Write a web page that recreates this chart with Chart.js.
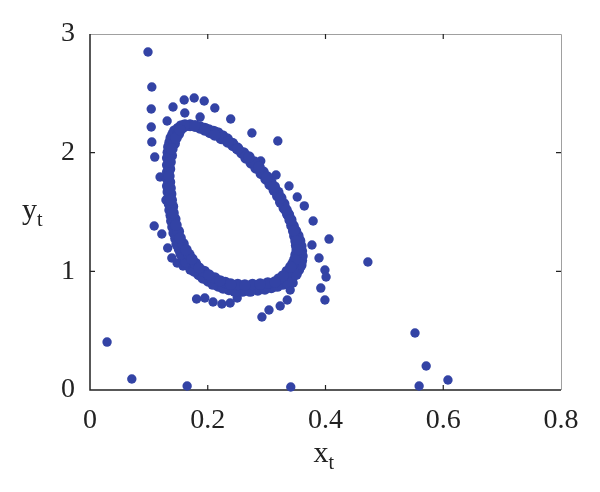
<!DOCTYPE html>
<html>
<head>
<meta charset="utf-8">
<script src="https://cdn.jsdelivr.net/npm/chart.js@4"></script>
<style>
  html, body { margin: 0; padding: 0; background: #fff; }
  #wrap { width: 600px; height: 492px; }
</style>
</head>
<body>
<div id="wrap"><canvas id="myChart" width="600" height="492"></canvas></div>
<script>
// tick values
var xTicks = [0, 0.2, 0.4, 0.6, 0.8];
var yTicks = [0, 1, 2, 3];

// dense closed orbit, inner side of the band
var loopInner = [
  [0.161, 2.233], [0.178, 2.225], [0.195, 2.191], [0.212, 2.149], [0.234, 2.090],
  [0.251, 2.031], [0.270, 1.963], [0.287, 1.879], [0.301, 1.795], [0.313, 1.711],
  [0.324, 1.618], [0.333, 1.517], [0.340, 1.433], [0.346, 1.340], [0.350, 1.256],
  [0.352, 1.180], [0.348, 1.096], [0.341, 1.036], [0.328, 0.961], [0.314, 0.910],
  [0.289, 0.893], [0.263, 0.885], [0.239, 0.893], [0.221, 0.919], [0.202, 0.969],
  [0.185, 1.028], [0.173, 1.104], [0.163, 1.180], [0.153, 1.281], [0.146, 1.390],
  [0.141, 1.492], [0.138, 1.601], [0.136, 1.702], [0.134, 1.803], [0.136, 1.921],
  [0.139, 2.031], [0.146, 2.124], [0.153, 2.191]
];

// more iterates on the inner side, between the ones above
var loopInnerB = [
  [0.170, 2.229], [0.187, 2.208], [0.204, 2.170], [0.223, 2.120], [0.243, 2.061],
  [0.261, 1.997], [0.279, 1.921], [0.294, 1.837], [0.307, 1.753], [0.319, 1.665],
  [0.329, 1.568], [0.337, 1.475], [0.343, 1.387], [0.348, 1.298], [0.351, 1.218],
  [0.350, 1.138], [0.345, 1.066], [0.335, 0.999], [0.321, 0.936], [0.302, 0.902],
  [0.276, 0.889], [0.251, 0.889], [0.230, 0.906], [0.212, 0.944], [0.194, 0.999],
  [0.179, 1.066], [0.168, 1.142], [0.158, 1.231], [0.150, 1.336], [0.144, 1.441],
  [0.140, 1.547], [0.137, 1.652], [0.135, 1.753], [0.135, 1.862], [0.138, 1.976],
  [0.143, 2.078], [0.150, 2.158], [0.157, 2.212]
];

// dense closed orbit, outer side of the band
var loopOuter = [
  [0.155, 2.225], [0.170, 2.233], [0.187, 2.216], [0.202, 2.191], [0.217, 2.166],
  [0.233, 2.115], [0.250, 2.039], [0.265, 1.955], [0.282, 1.871], [0.299, 1.778],
  [0.313, 1.685], [0.324, 1.584], [0.336, 1.483], [0.345, 1.382], [0.353, 1.298],
  [0.358, 1.213], [0.360, 1.129], [0.358, 1.053], [0.350, 0.977], [0.335, 0.910],
  [0.318, 0.876], [0.297, 0.851], [0.272, 0.834], [0.246, 0.834], [0.226, 0.860],
  [0.209, 0.893], [0.192, 0.944], [0.177, 1.003], [0.163, 1.079], [0.155, 1.146],
  [0.148, 1.230], [0.143, 1.323], [0.139, 1.424], [0.136, 1.517], [0.134, 1.618],
  [0.132, 1.719], [0.132, 1.837], [0.132, 1.955], [0.134, 2.048], [0.138, 2.124],
  [0.144, 2.183]
];

// more iterates on the outer side
var loopOuterB = [
  [0.163, 2.229], [0.179, 2.225], [0.195, 2.204], [0.210, 2.179], [0.225, 2.141],
  [0.242, 2.077], [0.258, 1.997], [0.274, 1.913], [0.291, 1.825], [0.306, 1.732],
  [0.319, 1.635], [0.330, 1.534], [0.341, 1.433], [0.349, 1.340], [0.356, 1.256],
  [0.359, 1.171], [0.359, 1.091], [0.354, 1.015], [0.343, 0.944], [0.327, 0.893],
  [0.308, 0.864], [0.285, 0.843], [0.259, 0.834], [0.236, 0.847], [0.218, 0.877],
  [0.201, 0.919], [0.185, 0.974], [0.170, 1.041], [0.159, 1.113], [0.152, 1.188],
  [0.146, 1.277], [0.141, 1.374], [0.138, 1.471], [0.135, 1.568], [0.133, 1.669],
  [0.132, 1.778], [0.132, 1.896], [0.133, 2.002], [0.136, 2.086], [0.141, 2.154],
  [0.150, 2.204]
];

// scattered iterates around the orbit
var scatterPts = [
  [0.0985, 2.848], [0.105, 2.553], [0.104, 2.368], [0.104, 2.216], [0.105, 2.090],
  [0.110, 1.963], [0.119, 1.795], [0.129, 1.601], [0.109, 1.382], [0.122, 1.315],
  [0.132, 1.197], [0.139, 1.112], [0.148, 1.070], [0.158, 1.045], [0.170, 1.011],
  [0.141, 2.385], [0.160, 2.444], [0.177, 2.461], [0.194, 2.435], [0.212, 2.376],
  [0.239, 2.284], [0.275, 2.166], [0.319, 2.098], [0.161, 2.334], [0.187, 2.300],
  [0.131, 2.267], [0.290, 1.930], [0.316, 1.812], [0.338, 1.719], [0.352, 1.626],
  [0.364, 1.551], [0.379, 1.424], [0.406, 1.272], [0.377, 1.222], [0.389, 1.112],
  [0.399, 1.011], [0.401, 0.952], [0.392, 0.859], [0.399, 0.758], [0.472, 1.079],
  [0.340, 0.843], [0.335, 0.758], [0.323, 0.708], [0.304, 0.674], [0.292, 0.615],
  [0.345, 0.902], [0.181, 0.767], [0.195, 0.775], [0.209, 0.742], [0.224, 0.725],
  [0.238, 0.733], [0.250, 0.775], [0.029, 0.404], [0.071, 0.093], [0.165, 0.034],
  [0.341, 0.025], [0.552, 0.480], [0.571, 0.202], [0.608, 0.084], [0.559, 0.034]
];

var dotColor = '#3343a5';
var serif = '"Liberation Serif", "Times New Roman", serif';

function toXY(arr) {
  return arr.map(function (p) { return { x: p[0], y: p[1] }; });
}

// box, inward tick marks and the subscripted axis titles
var framePlugin = {
  id: 'frame',
  beforeDatasetsDraw: function (chart) {
    var a = chart.chartArea, c = chart.ctx;
    var sx = chart.scales.x, sy = chart.scales.y;
    c.save();
    c.strokeStyle = '#a0a0a0';
    c.lineWidth = 1;
    c.beginPath();
    c.moveTo(a.left, a.top + 0.5); c.lineTo(a.right + 0.5, a.top + 0.5);
    c.lineTo(a.right + 0.5, a.bottom);
    c.stroke();
    c.strokeStyle = '#222';
    c.lineWidth = 1.5;
    c.beginPath();
    c.moveTo(a.left, a.top); c.lineTo(a.left, a.bottom); c.lineTo(a.right, a.bottom);
    c.stroke();
    c.lineWidth = 1.2;
    c.beginPath();
    xTicks.slice(1, -1).forEach(function (v) {
      var px = sx.getPixelForValue(v);
      c.moveTo(px, a.bottom); c.lineTo(px, a.bottom - 5);
      c.moveTo(px, a.top); c.lineTo(px, a.top + 5);
    });
    yTicks.slice(1, -1).forEach(function (v) {
      var py = sy.getPixelForValue(v);
      c.moveTo(a.left, py); c.lineTo(a.left + 5, py);
      c.moveTo(a.right, py); c.lineTo(a.right - 5, py);
    });
    c.stroke();
    c.restore();
  },
  afterDraw: function (chart) {
    var a = chart.chartArea, c = chart.ctx;
    c.save();
    c.fillStyle = '#222';
    c.textBaseline = 'alphabetic';
    c.textAlign = 'left';
    // x title
    c.font = '30px ' + serif;
    var cx = (a.left + a.right) / 2 - 12;
    c.fillText('x', cx, 462);
    var w = c.measureText('x').width;
    c.font = '20px ' + serif;
    c.fillText('t', cx + w, 469);
    // y title
    c.font = '30px ' + serif;
    c.fillText('y', 22, 219);
    w = c.measureText('y').width;
    c.font = '20px ' + serif;
    c.fillText('t', 22 + w, 226);
    c.restore();
  }
};

function dotSet(name, arr, r) {
  return {
    label: name,
    data: toXY(arr),
    backgroundColor: dotColor,
    borderWidth: 0,
    pointRadius: r,
    clip: false
  };
}

var canvas = document.getElementById('myChart');
var ctx = canvas.getContext('2d');

var myChart = new Chart(ctx, {
  type: 'scatter',
  data: {
    datasets: [
      dotSet('orbit inner', loopInner, 5.8),
      dotSet('orbit inner b', loopInnerB, 5.8),
      dotSet('orbit outer', loopOuter, 5.8),
      dotSet('orbit outer b', loopOuterB, 5.8),
      dotSet('iterates', scatterPts, 4.7)
    ]
  },
  options: {
    responsive: false,
    animation: false,
    layout: { padding: { left: 0, right: 39, top: 34, bottom: 0 } },
    plugins: {
      legend: { display: false },
      tooltip: { enabled: false }
    },
    scales: {
      x: {
        type: 'linear',
        min: 0,
        max: 0.8,
        afterBuildTicks: function (s) { s.ticks = xTicks.map(function (v) { return { value: v }; }); },
        afterFit: function (s) { s.height = 102; },
        grid: { display: false, drawTicks: false },
        border: { display: false },
        ticks: {
          padding: 14,
          color: '#222',
          font: { family: serif, size: 28 }
        }
      },
      y: {
        type: 'linear',
        min: 0,
        max: 3,
        afterBuildTicks: function (s) { s.ticks = yTicks.map(function (v) { return { value: v }; }); },
        afterFit: function (s) { s.width = 90; },
        grid: { display: false, drawTicks: false },
        border: { display: false },
        ticks: {
          padding: 15,
          color: '#222',
          font: { family: serif, size: 28 }
        }
      }
    }
  },
  plugins: [framePlugin]
});
</script>
</body>
</html>
